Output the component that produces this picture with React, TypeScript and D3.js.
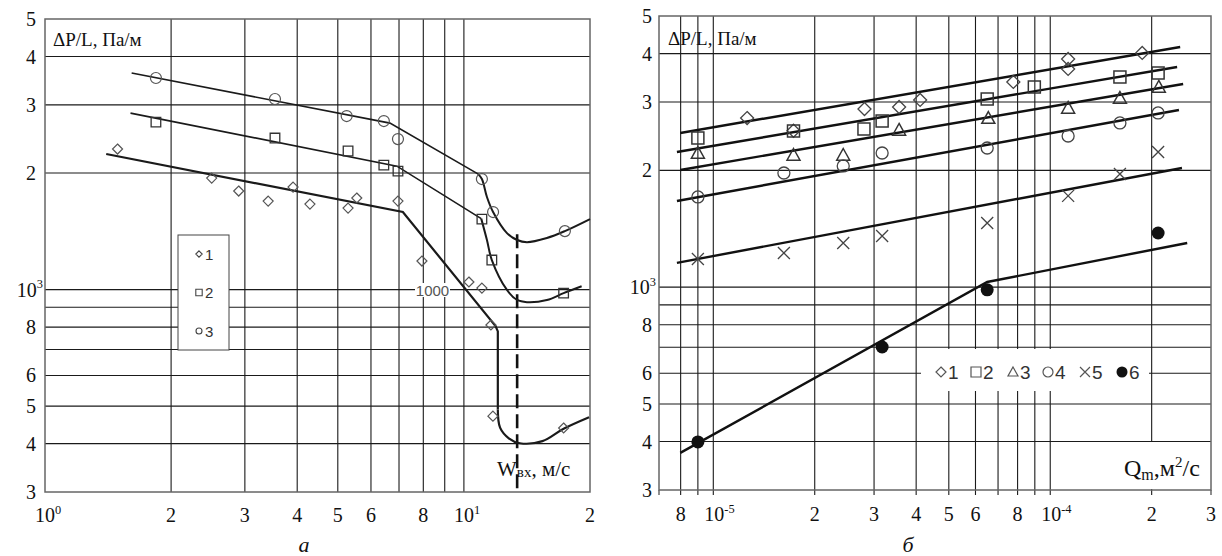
import React from "react";
import * as d3 from "d3";

// ---------- panel a: ΔP/L vs w_вх ----------
const aXGrid = [2, 3, 4, 5, 6, 7, 8, 9, 10];
const aXTickVals = [1, 2, 3, 4, 5, 6, 8, 10, 20];
const aXTickText = ["10^0", "2", "3", "4", "5", "6", "8", "10^1", "2"];

const yGrid = [4000, 3000, 2000, 1000, 900, 800, 700, 600, 500, 400];
const yTickVals = [5000, 4000, 3000, 2000, 1000, 800, 600, 500, 400, 300];
const yTickText = ["5", "4", "3", "2", "10^3", "8", "6", "5", "4", "3"];

// measured points
const a1Points = [[1.49, 2307], [2.5, 1941], [2.9, 1797], [3.41, 1693], [3.91, 1840], [4.29, 1663], [5.29, 1624], [5.55, 1724], [6.96, 1693], [7.94, 1185], [10.28, 1046], [11.04, 1009], [11.6, 810], [11.73, 471], [17.3, 439]];
const a2Points = [[1.84, 2708], [3.54, 2463], [5.29, 2280], [6.44, 2097], [6.96, 2023], [11.04, 1521], [11.66, 1192], [17.3, 979]];
const a3Points = [[1.84, 3520], [3.54, 3107], [5.25, 2807], [6.44, 2725], [6.96, 2448], [11.04, 1930], [11.74, 1586], [17.42, 1416]];

// fitted curves: straight part + smooth part
const a1Line = [[1.4, 2240], [7.15, 1586], [11.9, 805], [12.05, 780], [12.05, 490]];
const a1Smooth = [[12.05, 490], [12.2, 440], [12.8, 413], [13.6, 401], [15.4, 406], [17.3, 437], [19.9, 468]];
const a2Line = [[1.6, 2857], [6.92, 2084], [11.0, 1525]];
const a2Smooth = [[11.0, 1525], [11.35, 1343], [11.66, 1192], [12.67, 998], [13.4, 940], [14.14, 928], [15.78, 940], [17.3, 979], [19.1, 1020]];
const a3Line = [[1.61, 3625], [6.66, 2692], [10.8, 1990]];
const a3Smooth = [[10.8, 1990], [11.04, 1930], [11.35, 1734], [11.74, 1586], [12.67, 1399], [13.4, 1343], [14.14, 1326], [15.78, 1359], [17.42, 1416], [20, 1521]];

const aCritical = 13.4;
const aCriticalRange = [1390, 300];

const aLegend = ["1", "2", "3"];

// ---------- panel б: ΔP/L vs Q_m ----------
const bXGrid = [8e-6, 9e-6, 1e-5, 2e-5, 3e-5, 4e-5, 5e-5, 6e-5, 7e-5, 8e-5, 9e-5, 1e-4, 2e-4];
const bXTickVals = [8e-6, 1e-5, 2e-5, 3e-5, 4e-5, 5e-5, 6e-5, 8e-5, 1e-4, 2e-4, 3e-4];
const bXTickText = ["8", "10^-5", "2", "3", "4", "5", "6", "8", "10^-4", "2", "3"];

const b1 = [[1.26e-5, 2728], [1.73e-5, 2530], [2.81e-5, 2879], [3.56e-5, 2914], [4.11e-5, 3038], [7.77e-5, 3381], [1.13e-4, 3873], [1.13e-4, 3652], [1.875e-4, 4016]];
const b2 = [[9e-6, 2424], [1.73e-5, 2527], [2.8e-5, 2556], [3.17e-5, 2681], [6.5e-5, 3056], [8.97e-5, 3281], [1.61e-4, 3482], [2.09e-4, 3564]];
const b3 = [[9e-6, 2217], [1.73e-5, 2191], [2.43e-5, 2191], [3.56e-5, 2542], [6.55e-5, 2728], [1.13e-4, 2897], [1.61e-4, 3073], [2.1e-4, 3281]];
const b4 = [[9e-6, 1708], [1.62e-5, 1969], [2.43e-5, 2053], [3.17e-5, 2217], [6.5e-5, 2284], [1.13e-4, 2453], [1.61e-4, 2650], [2.09e-4, 2812]];
const b5 = [[9e-6, 1182], [1.62e-5, 1225], [2.43e-5, 1300], [3.17e-5, 1355], [6.5e-5, 1463], [1.13e-4, 1719], [1.61e-4, 1957], [2.09e-4, 2230]];
const b6 = [[9e-6, 399], [3.17e-5, 701], [6.5e-5, 984], [2.09e-4, 1379]];

const bFit1 = [[7.98e-6, 2497], [2.43e-4, 4159]];
const bFit2 = [[7.8e-6, 2230], [2.38e-4, 3695]];
const bFit3 = [[7.98e-6, 2005], [2.48e-4, 3340]];
const bFit4 = [[7.8e-6, 1668], [2.41e-4, 2862]];
const bFit5 = [[7.8e-6, 1155], [2.46e-4, 2028]];
const bFit6 = [[7.98e-6, 374], [6.5e-5, 1031], [2.55e-4, 1300]];

const bLegend = ["1", "2", "3", "4", "5", "6"];

const SERIF = "'Liberation Serif', 'Times New Roman', serif";
const SANS = "'Liberation Sans', Arial, sans-serif";

// frames
const fA = { left: 45, right: 590, top: 19, bottom: 492 };
const fB = { left: 659, right: 1211, top: 16, bottom: 490 };

const xA = d3.scaleLog().domain([1, 20]).range([fA.left, fA.right]);
const yA = d3.scaleLog().domain([300, 5000]).range([fA.bottom, fA.top]);
const xB = d3.scaleLog().domain([6.9e-6, 3e-4]).range([fB.left, fB.right]);
const yB = d3.scaleLog().domain([300, 5000]).range([fB.bottom, fB.top]);

function marker(type, x, y, s, color, sw, key) {
  const t = `translate(${x},${y})`;
  if (type === "circle")
    return <circle key={key} cx={x} cy={y} r={s} fill="none" stroke={color} strokeWidth={sw} />;
  if (type === "dot")
    return <circle key={key} cx={x} cy={y} r={s} fill="#111" />;
  let d = "";
  if (type === "diamond") d = `M0,${-s}L${s},0L0,${s}L${-s},0Z`;
  if (type === "square") d = `M${-s},${-s}h${2 * s}v${2 * s}h${-2 * s}Z`;
  if (type === "triangle") d = `M0,${-s}L${s},${s * 0.8}L${-s},${s * 0.8}Z`;
  if (type === "cross") d = `M${-s},${-s}L${s},${s}M${s},${-s}L${-s},${s}`;
  return <path key={key} d={d} transform={t} fill="none" stroke={color} strokeWidth={sw} />;
}

// "10^3" -> 10 with superscript 3
function Label({ x, y, text, anchor, size }) {
  const [base, sup] = text.split("^");
  return (
    <text x={x} y={y} textAnchor={anchor} fontFamily={SERIF} fontSize={size} fill="#111">
      {base}
      {sup !== undefined && (
        <tspan dy={-size * 0.42} fontSize={size * 0.62}>{sup}</tspan>
      )}
    </text>
  );
}

export default function App() {
  const lineA = d3.line().x(d => xA(d[0])).y(d => yA(d[1]));
  const smoothA = d3.line().x(d => xA(d[0])).y(d => yA(d[1])).curve(d3.curveCatmullRom.alpha(0.5));
  const lineB = d3.line().x(d => xB(d[0])).y(d => yB(d[1]));

  const gridStroke = "#1a1a1a";
  const markA = "#555";
  const markB = "#444";
  const TS = 20;

  return (
    <svg width={1222} height={556} style={{ position: "absolute", left: 0, top: 0, background: "#fff" }}>
      <rect width={1222} height={556} fill="#fff" />

      {/* ===== panel a ===== */}
      <g>
        {yGrid.map(v => (
          <line key={"ga" + v} x1={fA.left} x2={fA.right} y1={yA(v)} y2={yA(v)} stroke={gridStroke} strokeWidth={1.1} />
        ))}
        {aXGrid.map(v => (
          <line key={"gxa" + v} x1={xA(v)} x2={xA(v)} y1={fA.top} y2={fA.bottom} stroke={gridStroke} strokeWidth={1.1} />
        ))}
        <rect x={fA.left} y={fA.top} width={fA.right - fA.left} height={fA.bottom - fA.top} fill="none" stroke="#666" strokeWidth={1.5} />

        {yTickVals.map((v, i) => (
          <Label key={"yla" + i} x={yTickText[i].includes("^") ? fA.left - 2 : fA.left - 9} y={yA(v) + 7} text={yTickText[i]} anchor="end" size={TS} />
        ))}
        {aXTickVals.map((v, i) => (
          aXTickText[i].includes("^")
            ? <Label key={"xla" + i} x={xA(v) - 10} y={522} text={aXTickText[i]} anchor="start" size={TS} />
            : <Label key={"xla" + i} x={xA(v)} y={522} text={aXTickText[i]} anchor="middle" size={TS} />
        ))}

        {/* "1000" note */}
        <rect x={415} y={283} width={35} height={14} fill="#fff" />
        <text x={432.5} y={295.5} textAnchor="middle" fontFamily={SANS} fontSize={15} fill="#555">1000</text>

        {/* critical velocity */}
        <line x1={xA(aCritical)} x2={xA(aCritical)} y1={yA(aCriticalRange[0])} y2={yA(aCriticalRange[1])} stroke="#111" strokeWidth={2.6} strokeDasharray="14,6" />

        {/* curves */}
        <path d={lineA(a1Line)} fill="none" stroke="#1a1a1a" strokeWidth={2.2} />
        <path d={smoothA(a1Smooth)} fill="none" stroke="#1a1a1a" strokeWidth={2.2} />
        <path d={lineA(a2Line)} fill="none" stroke="#1a1a1a" strokeWidth={1.6} />
        <path d={smoothA(a2Smooth)} fill="none" stroke="#1a1a1a" strokeWidth={2} />
        <path d={lineA(a3Line)} fill="none" stroke="#1a1a1a" strokeWidth={1.6} />
        <path d={smoothA(a3Smooth)} fill="none" stroke="#1a1a1a" strokeWidth={2} />

        {a1Points.map((d, i) => marker("diamond", xA(d[0]), yA(d[1]), 5, markA, 1.2, "a1" + i))}
        {a2Points.map((d, i) => marker("square", xA(d[0]), yA(d[1]), 4.8, "#333", 1.3, "a2" + i))}
        {a3Points.map((d, i) => marker("circle", xA(d[0]), yA(d[1]), 5.5, markA, 1.2, "a3" + i))}

        {/* legend */}
        <rect x={178} y={235} width={51} height={115} fill="#fff" stroke="#444" strokeWidth={1} />
        {aLegend.map((t, i) => {
          const cy = 254 + i * 38.5;
          const type = ["diamond", "square", "circle"][i];
          return (
            <g key={"lega" + i}>
              {marker(type, 199, cy, type === "circle" ? 3 : 3.2, "#444", 1.1, "lm" + i)}
              <text x={205} y={cy + 5.5} fontFamily={SANS} fontSize={15} fill="#333">{t}</text>
            </g>
          );
        })}

        {/* axis titles */}
        <text x={53} y={46} fontFamily={SERIF} fontSize={19} fill="#111">ΔP/L, Па/м</text>
        <text x={497} y={476} fontFamily={SERIF} fontSize={21} fill="#111">
          W<tspan fontSize={15} dy={1}>вх</tspan><tspan dy={-1}>, м/с</tspan>
        </text>
        <text x={304} y={552} textAnchor="middle" fontFamily={SERIF} fontStyle="italic" fontSize={22} fill="#111">а</text>
      </g>

      {/* ===== panel б ===== */}
      <g>
        {yGrid.map(v => (
          <line key={"gb" + v} x1={fB.left} x2={fB.right} y1={yB(v)} y2={yB(v)} stroke={gridStroke} strokeWidth={1.1} />
        ))}
        {bXGrid.map(v => (
          <line key={"gxb" + v} x1={xB(v)} x2={xB(v)} y1={fB.top} y2={fB.bottom + 5} stroke={gridStroke} strokeWidth={1.1} />
        ))}
        <line x1={fB.left} x2={fB.left} y1={fB.bottom} y2={fB.bottom + 5} stroke="#444" strokeWidth={1.2} />
        <line x1={fB.right} x2={fB.right} y1={fB.bottom} y2={fB.bottom + 5} stroke="#444" strokeWidth={1.2} />

        {/* white boxes: legend and axis title */}
        <rect x={921} y={349} width={228} height={42} fill="#fff" />
        <rect x={1118} y={442} width={91} height={47} fill="#fff" />

        <rect x={fB.left} y={fB.top} width={fB.right - fB.left} height={fB.bottom - fB.top} fill="none" stroke="#666" strokeWidth={1.5} />

        {yTickVals.map((v, i) => (
          <Label key={"ylb" + i} x={yTickText[i].includes("^") ? fB.left - 3 : fB.left - 7} y={yB(v) + 7} text={yTickText[i]} anchor="end" size={TS} />
        ))}
        {bXTickVals.map((v, i) => (
          bXTickText[i].includes("^")
            ? <Label key={"xlb" + i} x={xB(v) - 9} y={521} text={bXTickText[i]} anchor="start" size={TS} />
            : <Label key={"xlb" + i} x={xB(v)} y={521} text={bXTickText[i]} anchor="middle" size={TS} />
        ))}

        {[bFit1, bFit2, bFit3, bFit4, bFit5, bFit6].map((f, i) => (
          <path key={"fit" + i} d={lineB(f)} fill="none" stroke="#111" strokeWidth={2.4} />
        ))}

        {b1.map((d, i) => marker("diamond", xB(d[0]), yB(d[1]), 6.5, markB, 1.3, "b1" + i))}
        {b2.map((d, i) => marker("square", xB(d[0]), yB(d[1]), 6, "#333", 1.5, "b2" + i))}
        {b3.map((d, i) => marker("triangle", xB(d[0]), yB(d[1]), 6.5, "#333", 1.5, "b3" + i))}
        {b4.map((d, i) => marker("circle", xB(d[0]), yB(d[1]), 6, markB, 1.3, "b4" + i))}
        {b5.map((d, i) => marker("cross", xB(d[0]), yB(d[1]), 6, markB, 1.3, "b5" + i))}
        {b6.map((d, i) => marker("dot", xB(d[0]), yB(d[1]), 6.5, markB, 1, "b6" + i))}

        {bLegend.map((t, i) => {
          const mx = [941, 976, 1013, 1048, 1085, 1122][i];
          const type = ["diamond", "square", "triangle", "circle", "cross", "dot"][i];
          return (
            <g key={"legb" + i}>
              {marker(type, mx, 372, type === "dot" ? 5.5 : 5, "#555", 1.2, "bm" + i)}
              <text x={mx + 7} y={379} fontFamily={SANS} fontSize={19} fill="#333">{t}</text>
            </g>
          );
        })}

        <text x={668} y={45} fontFamily={SERIF} fontSize={19} fill="#111">ΔP/L, Па/м</text>
        <text x={1124} y={476} fontFamily={SERIF} fontSize={24} fill="#111">
          Q<tspan fontSize={16} dy={4}>m</tspan><tspan dy={-4}>,м</tspan><tspan fontSize={15} dy={-9}>2</tspan><tspan dy={9}>/с</tspan>
        </text>
        <text x={908} y={552} textAnchor="middle" fontFamily={SERIF} fontStyle="italic" fontSize={22} fill="#111">б</text>
      </g>
    </svg>
  );
}
